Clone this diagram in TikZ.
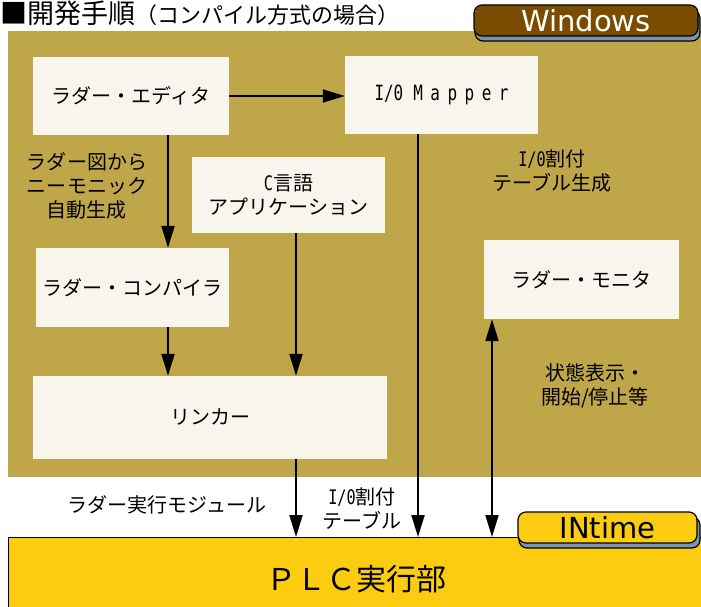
\documentclass[tikz,border=0pt]{standalone}
\usepackage{fontspec}
\setmainfont{Noto Sans CJK JP}
\newfontfamily\monofont{DejaVu Sans Mono}[FakeStretch=0.76]
\newfontfamily\tabfont{DejaVu Sans}
\usetikzlibrary{arrows.meta}
\definecolor{bgolive}{RGB}{191,166,72}
\definecolor{cream}{RGB}{248,246,236}
\definecolor{tabbrown}{RGB}{122,76,0}
\definecolor{shadowblue}{RGB}{120,148,176}
\definecolor{plcyellow}{RGB}{252,204,16}
\begin{document}
\begin{tikzpicture}[x=1pt,y=-1pt,
  box/.style={fill=cream, inner sep=0pt, align=center, font=\fontsize{20}{24}\selectfont},
  lbl/.style={inner sep=0pt, align=center, font=\fontsize{20}{24}\selectfont},
  arr/.style={line width=2pt, -{Triangle[length=22pt,width=13pt]}},
  dblarr/.style={line width=2pt, {Triangle[length=22pt,width=13pt]}-{Triangle[length=22pt,width=13pt]}},
  tabbox/.style={rounded corners=8pt, draw=black, line width=1.2pt, inner sep=0pt, font=\tabfont\fontsize{29}{29}\selectfont},
  tabshadow/.style={rounded corners=8pt, draw=black, line width=1.2pt, fill=shadowblue}]
\useasboundingbox (0,0) rectangle (701,607);
% title
\node[anchor=base west, inner sep=0pt] (title) at (0,24)
  {\fontsize{27}{27}\selectfont ■開発手順\fontsize{22}{22}\selectfont （コンパイル方式の場合）};
% Windows area
\fill[bgolive] (8,31) rectangle (701,477);
\draw[tabshadow] (475,10) rectangle (700,41);
\node[tabbox, fill=tabbrown, text=white, minimum width=224pt, minimum height=31pt] (win) at (586,20.5) {Windows};
% boxes
\node[box, minimum width=196pt, minimum height=78pt] (editor) at (131,96) {ラダー・エディタ};
\node[box, minimum width=193pt, minimum height=78pt] (mapper) at (441.5,95)
  {{\monofont\fontsize{21}{21}\selectfont I/0\hspace{10pt}M\hspace{7.5pt}a\hspace{7.5pt}p\hspace{7.5pt}p\hspace{7.5pt}e\hspace{7.5pt}r}};
\node[box, minimum width=193pt, minimum height=76pt] (capp) at (288.5,195) {{\monofont C}言語\\アプリケーション};
\node[box, minimum width=193pt, minimum height=79pt] (compiler) at (132.5,287.5) {ラダー・コンパイラ};
\node[box, minimum width=354pt, minimum height=83pt] (linker) at (210,417.5) {リンカー};
\node[box, minimum width=195pt, minimum height=79pt] (monitor) at (581.5,279.5) {ラダー・モニタ};
% PLC
\draw[fill=plcyellow, line width=1pt] (8,537) rectangle (706,612);
\node[inner sep=0pt, font=\fontsize{30}{30}\selectfont] (plc) at (356,579) {ＰＬＣ実行部};
\coordinate (plctop) at (8,537);
% INtime tab
\draw[tabshadow] (519,517) rectangle (700,548);
\node[tabbox, fill=plcyellow, text=black, minimum width=179pt, minimum height=31pt] (intime) at (607.5,527.5) {INtime};
% labels
\node[lbl] (l1) at (87,186) {ラダー図から\\ニーモニック\\自動生成};
\node[lbl] (l2) at (552,171) {{\monofont I/0}割付\\テーブル生成};
\node[lbl] (l3) at (595,386) {状態表示・\\開始/停止等};
\node[lbl] (l4) at (167,505) {ラダー実行モジュール};
\node[lbl] (l5) at (362,509) {{\monofont I/0}割付\\テーブル};
% connectors
\draw[arr] (editor.east) -- (editor.east -| mapper.west);
\draw[arr] ([xshift=37pt]editor.south) -- ([xshift=37pt]editor.south |- compiler.north);
\draw[arr] ([xshift=35.5pt]compiler.south) -- ([xshift=35.5pt]compiler.south |- linker.north);
\draw[arr] ([xshift=7.5pt]capp.south) -- ([xshift=7.5pt]capp.south |- linker.north);
\draw[arr] ([xshift=86pt]linker.south) -- ([xshift=86pt]linker.south |- plctop);
\draw[arr] ([xshift=-23.5pt]mapper.south) -- ([xshift=-23.5pt]mapper.south |- plctop);
\draw[dblarr] ([xshift=-89.5pt]monitor.south) -- ([xshift=-89.5pt]monitor.south |- plctop);
\end{tikzpicture}
\end{document}
